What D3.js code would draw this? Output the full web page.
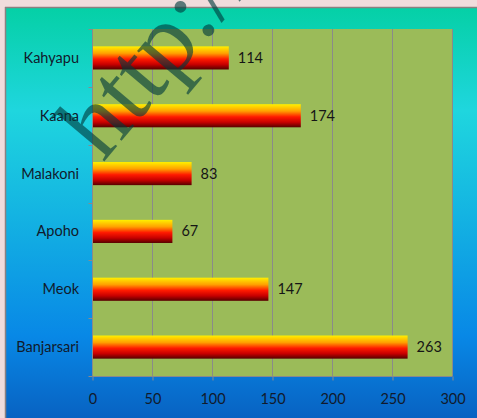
<!DOCTYPE html>
<html><head><meta charset="utf-8">
<script src="https://cdn.jsdelivr.net/npm/d3@7/dist/d3.min.js"></script>
<style>html,body{margin:0;padding:0;background:#f0dcdc;}svg{display:block;}</style>
</head><body>
<script>
const categories = ["Kahyapu","Kaana","Malakoni","Apoho","Meok","Banjarsari"];
const values = [114,174,83,67,147,263];
const xTicks = [0,50,100,150,200,250,300];
const watermark = "http://";

const W=477,H=418;
const svg=d3.select("body").append("svg").attr("width",W).attr("height",H);
const defs=svg.append("defs");
const bg=defs.append("linearGradient").attr("id","bg").attr("x1",0).attr("y1",0).attr("x2",0).attr("y2",1);
[[0,"#05d0a6"],[0.25,"#1fd6de"],[0.5,"#14b4e2"],[0.8,"#0888e6"],[1,"#0862c2"]].forEach(s=>bg.append("stop").attr("offset",s[0]).attr("stop-color",s[1]));
const bar=defs.append("linearGradient").attr("id","bar").attr("x1",0).attr("y1",0).attr("x2",0).attr("y2",1);
[[0,"#fff000"],[0.3,"#ffa000"],[0.55,"#ff1a00"],[0.78,"#c80000"],[1,"#560000"]].forEach(s=>bar.append("stop").attr("offset",s[0]).attr("stop-color",s[1]));

// outer chart area
svg.append("rect").attr("x",6).attr("y",8).attr("width",W-6).attr("height",H-8).attr("fill","url(#bg)");
svg.append("line").attr("x1",5).attr("x2",W).attr("y1",7.5).attr("y2",7.5).attr("stroke","#8c8080").attr("stroke-width",1.5);
svg.append("line").attr("x1",5.5).attr("x2",5.5).attr("y1",7).attr("y2",H).attr("stroke","#8c8080").attr("stroke-width",1.5);

const L=92,R=452,T=29,B=376;
const x=d3.scaleLinear().domain([0,300]).range([L,R]);
const y=d3.scaleBand().domain(categories).range([T,B]).paddingInner(0.6).paddingOuter(0.3);
const yb=d3.scaleBand().domain(categories).range([T,B]);

svg.append("rect").attr("x",L).attr("y",T).attr("width",R-L).attr("height",B-T).attr("fill","#9bbb59");
svg.append("g").selectAll("line").data(xTicks.slice(1)).join("line")
  .attr("x1",d=>x(d)+0.5).attr("x2",d=>x(d)+0.5).attr("y1",T).attr("y2",B)
  .attr("stroke","#8a8a8a").attr("stroke-width",1);

// x axis
const font="Lato, 'Open Sans', sans-serif";
const gx=svg.append("g").attr("transform",`translate(0.5,${B+0.5})`)
  .call(d3.axisBottom(x).tickValues(xTicks).tickSize(4).tickPadding(13));
gx.select(".domain").attr("stroke","#8a8a8a").attr("d",`M${L},0H${R}`);
gx.selectAll(".tick line").attr("stroke","#8a8a8a");
gx.selectAll("text").attr("font-family",font).attr("font-size",14.5).attr("fill","#111a2c");

// y axis
const gy=svg.append("g").attr("transform",`translate(${L+0.5},0)`);
gy.append("line").attr("y1",T).attr("y2",B).attr("stroke","#8a8a8a");
const bounds=categories.map(c=>yb(c)).concat([B]);
gy.selectAll(".t").data(bounds).join("line").attr("class","t")
  .attr("x1",-4).attr("x2",0).attr("y1",d=>Math.round(d)+0.5).attr("y2",d=>Math.round(d)+0.5).attr("stroke","#8a8a8a");
svg.append("g").selectAll("text").data(categories).join("text")
  .attr("x",79).attr("y",d=>yb(d)+yb.bandwidth()/2).attr("dy","0.35em")
  .attr("text-anchor","end").attr("font-family",font).attr("font-size",14.5).attr("fill","#111a2c").text(d=>d);

// bars
svg.append("g").selectAll("rect").data(values).join("rect")
  .attr("x",L+1).attr("y",(d,i)=>y(categories[i])).attr("height",y.bandwidth())
  .attr("width",d=>x(d)-L-1).attr("fill","url(#bar)");
svg.append("g").selectAll("text").data(values).join("text")
  .attr("x",d=>x(d)+9).attr("y",(d,i)=>y(categories[i])+y.bandwidth()/2).attr("dy","0.35em")
  .attr("font-family",font).attr("font-size",14.5).attr("fill","#151515").text(d=>d);

// watermark
svg.append("text").attr("transform","translate(103,163) rotate(-50)")
  .attr("font-family","'Liberation Serif', 'DejaVu Serif', serif").attr("font-size",100)
  .attr("fill","#003a3c").attr("fill-opacity",0.62).text(watermark);
</script>
</body></html>
